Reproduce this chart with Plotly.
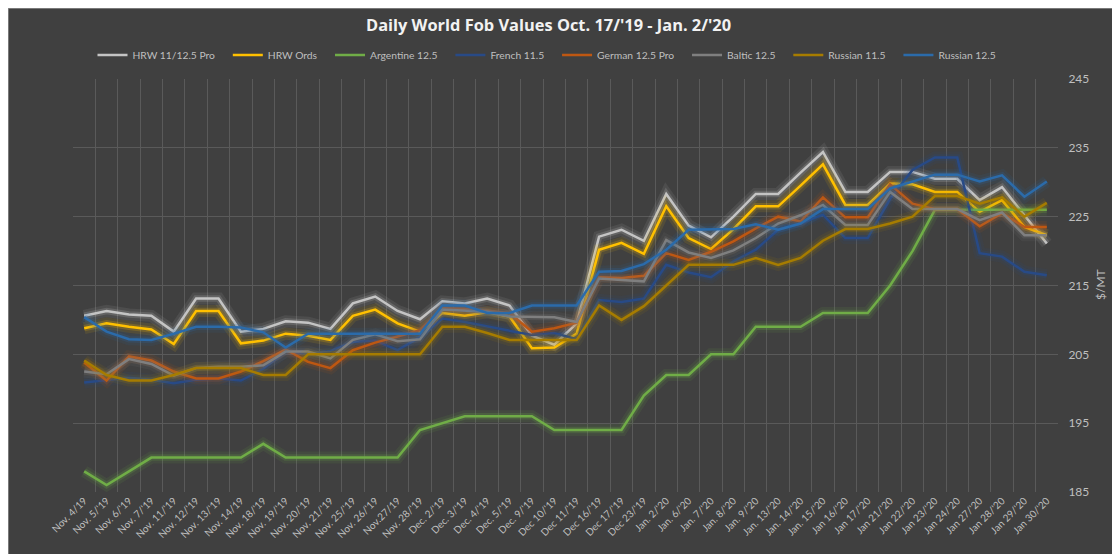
import plotly.graph_objects as go

dates = ["Nov. 4/19", "Nov. 5/'19", "Nov. 6/'19", "Nov. 7/'19", "Nov. 11/'19", "Nov. 12/'19",
         "Nov. 13/'19", "Nov. 14/19", "Nov. 18/'19", "Nov. 19/'19", "Nov. 20/'19", "Nov. 21/'19",
         "Nov. 25/'19", "Nov. 26/'19", "Nov.27/19", "Nov. 28/'19", "Dec. 2/'19", "Dec. 3/'19",
         "Dec. 4/'19", "Dec. 5/'19", "Dec. 9/'19", "Dec 10/'19", "Dec 11/'19", "Dec 16/'19",
         "Dec 17/'19", "Dec 23/'19", "Jan. 2/'20", "Jan. 6/'20", "Jan. 7/'20", "Jan. 8/'20",
         "Jan. 9/'20", "Jan. 13/'20", "Jan. 14/'20", "Jan. 15/'20", "Jan 16/'20", "Jan 17/'20",
         "Jan 21/'20", "Jan 22/'20", "Jan 23/'20", "Jan 24/'20", "Jan 27/'20", "Jan 28/'20",
         "Jan 29/'20", "Jan 30/'20"]

hrw_pro = [210.6, 211.3, 210.8, 210.6, 208.3, 213.1, 213.1, 208.3, 208.7, 209.8, 209.6, 208.7,
           212.4, 213.4, 211.3, 210.1, 212.7, 212.4, 213.1, 212.1, 207.7, 206.4, 209.5, 222.1,
           223.1, 221.5, 228.3, 223.7, 222.0, 225.0, 228.3, 228.3, 231.4, 234.4, 228.6, 228.6,
           231.5, 231.5, 230.5, 230.5, 227.4, 229.3, 225.2, 221.1]
hrw_ords = [208.8, 209.5, 209.0, 208.6, 206.5, 211.3, 211.3, 206.6, 207.0, 208.0, 207.7, 207.1,
            210.6, 211.5, 209.5, 208.3, 211.0, 210.6, 211.1, 210.5, 205.9, 206.0, 208.0, 220.2,
            221.2, 219.6, 226.5, 221.9, 220.3, 223.2, 226.5, 226.5, 229.5, 232.6, 226.7, 226.7,
            229.8, 229.7, 228.6, 228.6, 225.7, 227.4, 223.5, 222.3]
argentine = [188, 186, 188, 190, 190, 190, 190, 190, 192, 190, 190, 190, 190, 190, 190, 194,
             195, 196, 196, 196, 196, 194, 194, 194, 194, 199, 202, 202, 205, 205, 209, 209,
             209, 211, 211, 211, 215, 220, 226, 226, 226, 226, 226, 226]
french = [200.9, 201.3, 201.6, 201.3, 200.8, 201.3, 201.5, 201.2, 202.9, 205.4, 205.1, 205.5,
          206.8, 207.0, 205.6, 207.5, 210.2, 209.7, 209.1, 208.4, 207.8, 208.1, 207.2, 212.9,
          212.6, 213.1, 218.0, 216.9, 216.2, 218.5, 220.2, 223.1, 224.0, 225.3, 221.9, 221.9,
          227.6, 231.8, 233.6, 233.6, 219.7, 219.2, 217.0, 216.5]
german = [203.8, 201.2, 204.7, 204.1, 202.5, 201.5, 201.5, 202.5, 204.0, 205.7, 203.9, 203.0,
          205.6, 206.7, 207.6, 208.5, 211.7, 211.6, 211.3, 211.0, 208.3, 208.8, 209.6, 216.2,
          216.1, 216.4, 219.7, 218.7, 219.9, 221.4, 223.3, 225.0, 224.3, 227.8, 224.9, 224.9,
          229.7, 226.9, 226.1, 226.1, 223.6, 225.5, 223.5, 223.5]
baltic = [202.5, 202.1, 204.3, 203.6, 201.9, 203.0, 203.2, 203.2, 203.4, 205.4, 205.4, 204.4,
          207.1, 207.9, 206.9, 207.2, 211.5, 211.4, 211.2, 210.5, 210.4, 210.4, 209.7, 216.0,
          215.8, 215.6, 221.6, 219.8, 219.0, 220.1, 221.9, 224.0, 225.2, 226.7, 223.8, 223.8,
          228.6, 226.1, 226.1, 226.1, 224.5, 225.6, 222.3, 222.3]
russian_115 = [204.1, 202.0, 201.2, 201.2, 202.0, 203.0, 203.0, 203.0, 202.0, 202.0, 205.0, 205.0,
               205.0, 205.0, 205.0, 205.0, 209.0, 209.0, 208.1, 207.1, 207.1, 207.1, 207.1, 212.1,
               210.0, 212.0, 215.0, 218.0, 218.0, 218.0, 219.0, 218.0, 219.0, 221.5, 223.2, 223.2,
               224.0, 225.0, 228.0, 228.0, 226.9, 227.8, 225.0, 227.0]
russian_125 = [210.4, 208.3, 207.2, 207.1, 208.0, 209.0, 209.0, 208.9, 208.2, 206.0, 208.0, 208.0,
               208.0, 208.0, 208.0, 208.0, 212.1, 212.1, 211.0, 211.0, 212.1, 212.1, 212.1, 217.0,
               217.1, 218.1, 220.2, 223.1, 223.2, 223.2, 223.9, 223.1, 224.0, 226.1, 226.1, 226.1,
               229.1, 230.1, 231.1, 231.1, 230.1, 231.0, 227.9, 230.1]

series_names = ["HRW 11/12.5 Pro", "HRW Ords", "Argentine 12.5", "French 11.5",
                "German 12.5 Pro", "Baltic 12.5", "Russian 11.5", "Russian 12.5"]
series_values = [hrw_pro, hrw_ords, argentine, french, german, baltic, russian_115, russian_125]
series_colors = ["#C4C4C4", "#FFC000", "#70AD47", "#284A86", "#BE5712", "#7F7F7F", "#A67C00", "#2B6BAA"]

FONT = "Lato"
BG = "#404040"
OFF = 8  # page body margin
W, H = 1120 - OFF, 554 - OFF
# plot area in page pixels
PL, PR, PT, PB = 73, 1058, 79, 492
PW, PH = PR - PL, PB - PT
ML, MT = PL - OFF, PT - OFF
MR, MB = W - ML - PW, H - MT - PH
PAD = "\u00a0\u00a0\u00a0"


def px(x):
    return (x - PL) / PW


def py(y):
    return (PB - y) / PH


def hex_rgba(h, a):
    h = h.lstrip("#")
    r, g, b = int(h[0:2], 16), int(h[2:4], 16), int(h[4:6], 16)
    return f"rgba({r},{g},{b},{a})"


fig = go.Figure()
for name, vals, col in zip(series_names, series_values, series_colors):
    fig.add_trace(go.Scatter(x=dates, y=vals, mode="lines", showlegend=False, hoverinfo="skip",
                             line=dict(color=hex_rgba(col, 0.10), width=12)))
    fig.add_trace(go.Scatter(x=dates, y=vals, mode="lines", showlegend=False, hoverinfo="skip",
                             line=dict(color=hex_rgba(col, 0.20), width=6.5)))
    fig.add_trace(go.Scatter(x=dates, y=vals, mode="lines", name=name + PAD,
                             line=dict(color=col, width=2.5)))

fig.update_layout(
    width=W, height=H,
    margin=dict(l=ML, r=MR, t=MT, b=MB, autoexpand=False),
    paper_bgcolor="white",
    plot_bgcolor="rgba(0,0,0,0)",
    font=dict(family=FONT, color="#BFBFBF", size=11),
    showlegend=True,
    legend=dict(orientation="h", x=px(551), xanchor="center", y=py(55), yanchor="middle",
                font=dict(family=FONT, size=10.3, color="#BFBFBF"), bgcolor="rgba(0,0,0,0)",
                itemwidth=30),
    shapes=[dict(type="rect", xref="paper", yref="paper", layer="below",
                 x0=px(OFF), x1=px(1140), y0=py(580), y1=py(OFF),
                 fillcolor=BG, line=dict(color="#8C8C8C", width=1.5))],
    annotations=[
        dict(text="<b>Daily World Fob Values Oct. 17/'19 - Jan. 2/'20</b>",
             xref="paper", yref="paper", x=px(548), y=py(25),
             xanchor="center", yanchor="middle", showarrow=False,
             font=dict(family="Open Sans", size=16.4, color="#F2F2F2")),
        dict(text="$/MT", xref="paper", yref="paper", x=px(1100), y=py(285),
             xanchor="center", yanchor="middle", showarrow=False, textangle=-90,
             font=dict(family=FONT, size=12, color="#BFBFBF")),
    ],
)

fig.update_xaxes(type="category", tickson="boundaries", showgrid=True, gridcolor="#5A5A5A",
                 gridwidth=1, tickangle=-45, tickfont=dict(family=FONT, size=10, color="#BFBFBF"),
                 showline=False, zeroline=False, ticks="", range=[-0.5, len(dates) - 0.5],
                 automargin=False)
fig.update_yaxes(side="right", range=[185, 245], tick0=185, dtick=10, showgrid=True,
                 gridcolor="#5A5A5A", gridwidth=1, zeroline=False, showline=False,
                 ticks="outside", ticklen=7, tickcolor="rgba(0,0,0,0)",
                 tickfont=dict(family=FONT, size=12, color="#BFBFBF"), automargin=False)

fig.write_html("out.html")
